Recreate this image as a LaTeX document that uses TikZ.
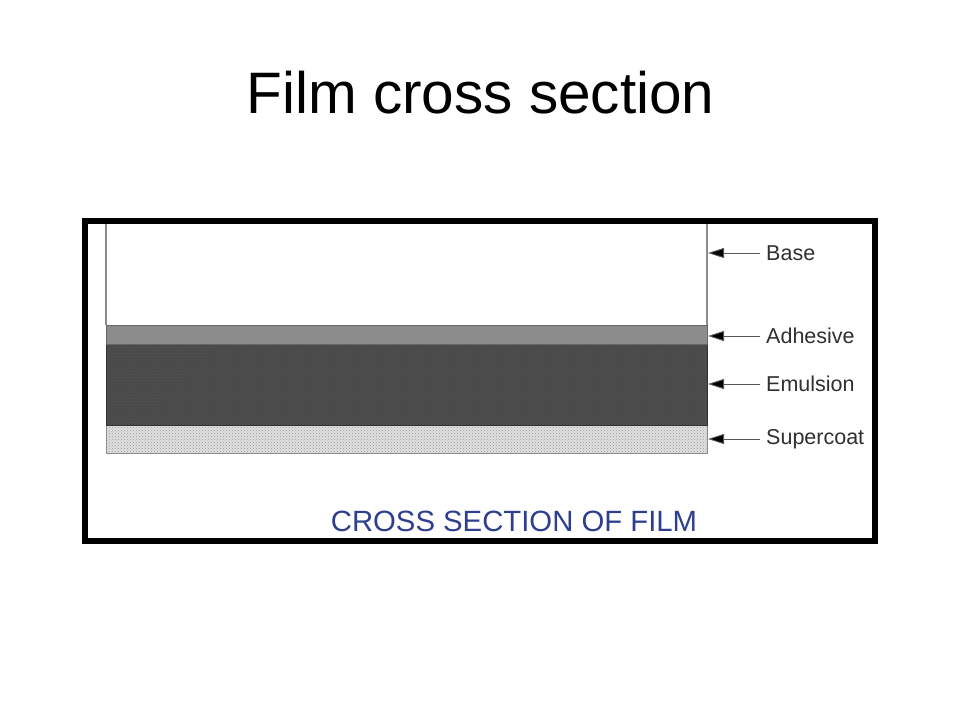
\documentclass[tikz,border=0pt]{standalone}
\usepackage{fontspec}
\setmainfont{Liberation Sans}
\usepackage{tikz}
\usetikzlibrary{calc,patterns,arrows.meta}
\definecolor{labelgray}{HTML}{303030}
\definecolor{captionblue}{HTML}{2E3F8F}
\tikzset{
  layerlabel/.style={anchor=west, inner sep=0pt, text=labelgray, font=\fontsize{21.5}{23}\selectfont},
  layerarrow/.style={draw=black!65, line width=0.9pt, -{Triangle[length=16pt, width=10pt, fill=black]}},
}

\begin{document}
\begin{tikzpicture}[x=1pt, y=-1pt]
		%%%%% START %%%%%
		\useasboundingbox (0, 0) rectangle (960, 720);
		\fill[white] (0, 0) rectangle (960, 720);
		
		\node[font=\fontsize{58.5}{60}\selectfont, anchor=base] (title) at (480.5, 113) {Film cross section};
		
		\draw[line width=6pt] (85, 220.5) rectangle (875, 541);
		
		% layers of the film
		\draw[fill=black!12, draw=black!45, line width=0.8pt] (106, 425) rectangle (707, 453);
		\fill[pattern=crosshatch dots, pattern color=black!40] (106.5, 425.5) rectangle (706.5, 452.5);
		\draw[fill=black!71, draw=black!80, line width=0.8pt] (106, 344) rectangle (707, 425);
		\fill[pattern=dots, pattern color=black!62] (106.5, 344.5) rectangle (706.5, 424.5);
		\draw[fill=black!45, draw=black!60, line width=0.8pt] (106, 325) rectangle (707, 344);
		\draw[black!45, line width=1.5pt] (106, 223.5) -- (106, 325);
		\draw[black!45, line width=1.2pt] (707, 223.5) -- (707, 325);
		
		% labels and arrows
		\node[layerlabel] (base) at (766, 253) {Base};
		\node[layerlabel] (adhesive) at (766, 336) {Adhesive};
		\node[layerlabel] (emulsion) at (766, 384) {Emulsion};
		\node[layerlabel] (supercoat) at (766, 439) {Supercoat};
		
		\coordinate (baseTip) at (708, 253);
		\coordinate (adhesiveTip) at (708, 336);
		\coordinate (emulsionTip) at (708, 384);
		\coordinate (supercoatTip) at (708, 439);
		
		\draw[layerarrow] ($(base.west)+(-6, 0)$) -- (baseTip);
		\draw[layerarrow] ($(adhesive.west)+(-6, 0)$) -- (adhesiveTip);
		\draw[layerarrow] ($(emulsion.west)+(-6, 0)$) -- (emulsionTip);
		\draw[layerarrow] ($(supercoat.west)+(-6, 0)$) -- (supercoatTip);
		
		\node[text=captionblue, font=\fontsize{29.3}{31}\selectfont] (caption) at (514, 521) {CROSS SECTION OF FILM};
		%%%%% END %%%%%
	\end{tikzpicture}
\end{document}
